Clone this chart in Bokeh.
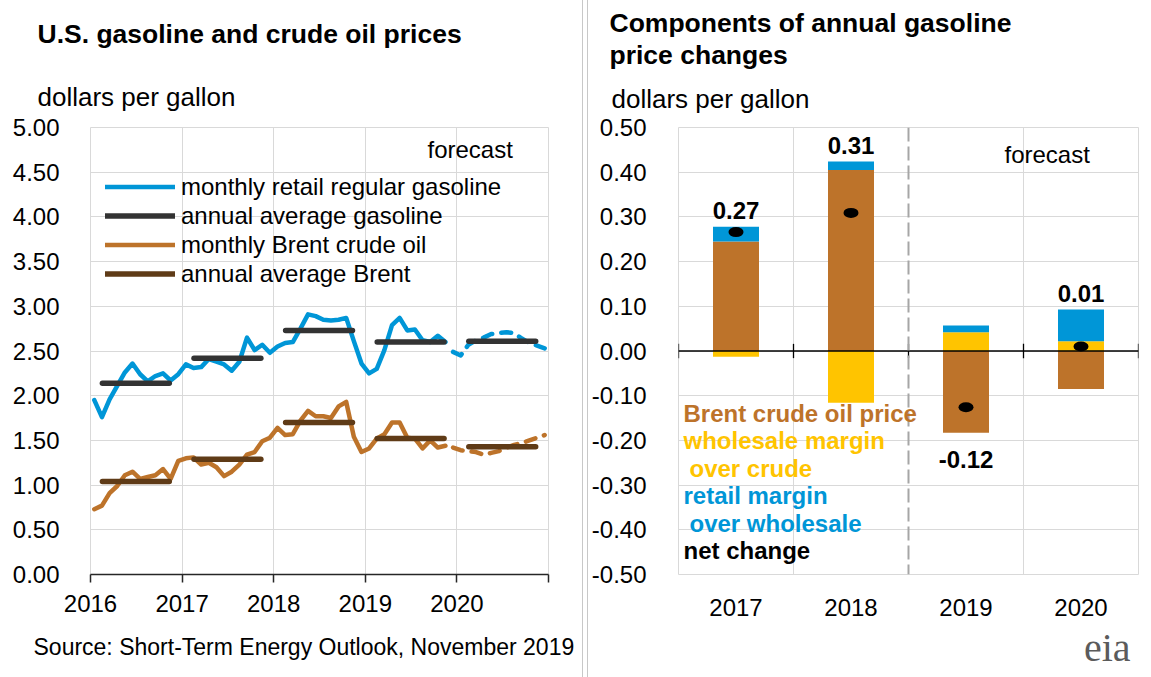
from bokeh.plotting import figure
from bokeh.layouts import row
from bokeh.models import (Legend, LegendItem, Label, FixedTicker, PrintfTickFormatter,
                          Span, Range1d, Title, Div)
from bokeh.core.properties import value
from bokeh.embed import file_html
from bokeh.resources import INLINE

FONT = "Liberation Sans"
BLUE = "#0096D7"
BROWN = "#BD732A"
YELLOW = "#FFC400"
DARK = "#333333"
DARK_BROWN = "#5F3B17"
GRID = "#D9D9D9"
RULE = "#C8C8C8"

# ---------------- left panel data (dollars per gallon) ----------------
first_year = 2016
# monthly values Jan 2016 - Nov 2019 (history)
gasoline_hist = [1.95, 1.76, 1.96, 2.11, 2.26, 2.36, 2.24, 2.16, 2.22, 2.25, 2.17, 2.24,
                 2.35, 2.31, 2.32, 2.41, 2.38, 2.35, 2.28, 2.38, 2.65, 2.51, 2.57, 2.48,
                 2.55, 2.59, 2.60, 2.75, 2.91, 2.89, 2.85, 2.84, 2.85, 2.87, 2.61, 2.36,
                 2.25, 2.30, 2.51, 2.79, 2.87, 2.73, 2.74, 2.62, 2.60, 2.67, 2.60]
# monthly values Dec 2019 - Dec 2020 (forecast)
gasoline_fcst = [2.49, 2.45, 2.57, 2.62, 2.65, 2.69, 2.70, 2.71, 2.70, 2.64, 2.59, 2.56, 2.53]
brent_hist = [0.73, 0.77, 0.91, 0.99, 1.11, 1.15, 1.07, 1.09, 1.11, 1.18, 1.07, 1.27,
              1.30, 1.31, 1.23, 1.25, 1.20, 1.10, 1.15, 1.23, 1.34, 1.37, 1.49, 1.53,
              1.64, 1.56, 1.57, 1.72, 1.83, 1.77, 1.77, 1.75, 1.88, 1.93, 1.54, 1.37,
              1.41, 1.52, 1.57, 1.70, 1.70, 1.53, 1.52, 1.41, 1.50, 1.42, 1.44]
brent_fcst = [1.42, 1.39, 1.38, 1.37, 1.34, 1.36, 1.38, 1.42, 1.45, 1.47, 1.50, 1.53, 1.56]
annual_years = [2016, 2017, 2018, 2019, 2020]
gasoline_annual = [2.14, 2.42, 2.73, 2.60, 2.61]
brent_annual = [1.04, 1.29, 1.70, 1.52, 1.43]
year_ticks = [2016, 2017, 2018, 2019, 2020, 2021]
year_labels = ["2016", "2017", "2018", "2019", "2020", ""]
price_ticks = [0.0, 0.5, 1.0, 1.5, 2.0, 2.5, 3.0, 3.5, 4.0, 4.5, 5.0]

# ---------------- right panel data (dollars per gallon) ----------------
comp_years = ["2017", "2018", "2019", "2020"]
brent_change = [0.245, 0.405, -0.183, -0.085]
wholesale_change = [-0.013, -0.116, 0.042, 0.022]
retail_change = [0.033, 0.019, 0.015, 0.071]
net_change = [0.266, 0.309, -0.126, 0.010]
net_labels = ["0.27", "0.31", "-0.12", "0.01"]
change_ticks = [-0.5, -0.4, -0.3, -0.2, -0.1, 0.0, 0.1, 0.2, 0.3, 0.4, 0.5]


def lbl(p, x, y, text, size="24px", style="normal", color="black", font=FONT):
    p.add_layout(Label(x=x, y=y, x_units="screen", y_units="screen", text=text,
                       text_font=font, text_font_size=size, text_font_style=style,
                       text_color=color, text_baseline="alphabetic", text_align="left"))


def ttl(p, text, side, size, style="normal", offset=0, standoff=0, align="left",
        valign="bottom", font=FONT, color="black", line_height=1.0):
    p.add_layout(Title(text=text, align=align, offset=offset, standoff=standoff,
                       vertical_align=valign, text_font=font, text_font_size=size,
                       text_font_style=style, text_color=color,
                       text_line_height=line_height), side)


def style_axes(p):
    for ax in (p.xaxis[0], p.yaxis[0]):
        ax.major_label_text_font = FONT
        ax.major_label_text_font_size = "24px"
        ax.major_label_text_color = "black"
        ax.minor_tick_line_color = None
    p.yaxis.axis_line_color = None
    p.yaxis.major_tick_line_color = None
    p.xgrid.grid_line_color = GRID
    p.ygrid.grid_line_color = GRID
    p.outline_line_color = GRID
    p.border_fill_color = "white"
    p.background_fill_color = "white"


# ======================= LEFT FIGURE =======================
p1 = figure(width=582, height=677, x_range=Range1d(2016, 2021), y_range=Range1d(0, 5),
            output_backend="svg", toolbar_location=None,
            min_border_left=90, min_border_right=34, min_border_top=124, min_border_bottom=103)
style_axes(p1)
p1.xaxis.ticker = FixedTicker(ticks=year_ticks)
p1.xaxis.major_label_overrides = {t: s for t, s in zip(year_ticks, year_labels)}
p1.xaxis.axis_line_color = "#262626"
p1.xaxis.axis_line_width = 1.5
p1.xaxis.major_tick_line_color = "#262626"
p1.xaxis.major_tick_line_width = 1.5
p1.xaxis.major_tick_out = 8
p1.xaxis.major_tick_in = 0
p1.xaxis.major_label_standoff = 12
p1.yaxis.ticker = FixedTicker(ticks=price_ticks)
p1.yaxis.formatter = PrintfTickFormatter(format="%.2f")
p1.yaxis.major_label_standoff = 25

x_hist = [first_year + (i + 0.5) / 12 for i in range(len(gasoline_hist))]
x_fcst = [first_year + (len(gasoline_hist) + j + 0.5) / 12 for j in range(len(gasoline_fcst))]
x0_ann = [y + 0.13 for y in annual_years]
x1_ann = [y + 0.86 for y in annual_years]

r_gas = p1.line(x_hist, gasoline_hist, line_color=BLUE, line_width=4.5,
                line_join="round", line_cap="round")
p1.line(x_fcst, gasoline_fcst, line_color=BLUE, line_width=4.5, line_dash="10 9",
        line_join="round", line_cap="round")
r_brent = p1.line(x_hist, brent_hist, line_color=BROWN, line_width=4.5,
                  line_join="round", line_cap="round")
p1.line(x_fcst, brent_fcst, line_color=BROWN, line_width=4.5, line_dash="10 9",
        line_join="round", line_cap="round")
r_gas_ann = p1.segment(x0=x0_ann, y0=gasoline_annual, x1=x1_ann, y1=gasoline_annual,
                       line_color=DARK, line_width=5.5, line_cap="round")
r_brent_ann = p1.segment(x0=x0_ann, y0=brent_annual, x1=x1_ann, y1=brent_annual,
                         line_color=DARK_BROWN, line_width=5.5, line_cap="round")

legend = Legend(items=[
    LegendItem(label="monthly retail regular gasoline", renderers=[r_gas]),
    LegendItem(label="annual average gasoline", renderers=[r_gas_ann]),
    LegendItem(label="monthly Brent crude oil", renderers=[r_brent]),
    LegendItem(label="annual average Brent", renderers=[r_brent_ann]),
], location=(15, 286), orientation="vertical")
legend.background_fill_alpha = 0
legend.border_line_color = None
legend.padding = 0
legend.margin = 0
legend.spacing = 0
legend.glyph_width = 70
legend.glyph_height = 29
legend.label_height = 29
legend.label_standoff = 6
legend.label_text_font = FONT
legend.label_text_font_size = "24px"
legend.label_text_color = "black"
p1.add_layout(legend)

lbl(p1, 337, 425, "forecast")
# titles (first added sits next to the frame)
ttl(p1, "dollars per gallon", "above", "26px", offset=-53, standoff=28, valign="top")
ttl(p1, "U.S. gasoline and crude oil prices", "above", "26.5px", style="bold",
    offset=-53, standoff=34, valign="top")
ttl(p1, "Source: Short-Term Energy Outlook, November 2019", "below", "23px",
    offset=-57, standoff=34, valign="bottom")

# ======================= RIGHT FIGURE =======================
p2 = figure(width=563, height=677, x_range=Range1d(0.5, 4.5), y_range=Range1d(-0.5, 0.5),
            output_backend="svg", toolbar_location=None,
            min_border_left=88, min_border_right=13, min_border_top=127, min_border_bottom=102)
style_axes(p2)
xs = [i + 1 for i in range(len(comp_years))]
p2.xaxis.ticker = FixedTicker(ticks=xs)
p2.xaxis.major_label_overrides = {x: c for x, c in zip(xs, comp_years)}
p2.xaxis.axis_line_color = None
p2.xaxis.major_tick_line_color = None
p2.xaxis.major_label_standoff = 18
p2.yaxis.ticker = FixedTicker(ticks=change_ticks)
p2.yaxis.formatter = PrintfTickFormatter(format="%.2f")
p2.yaxis.major_label_standoff = 26
bounds = [x - 0.5 for x in xs] + [xs[-1] + 0.5]
p2.xgrid.ticker = FixedTicker(ticks=[b for b in bounds if b != 2.5])

# stacked components
pos_base = [0.0] * len(xs)
neg_base = [0.0] * len(xs)
for vals, col in ((brent_change, BROWN), (wholesale_change, YELLOW), (retail_change, BLUE)):
    bottoms, tops = [], []
    for i, v in enumerate(vals):
        if v >= 0:
            bottoms.append(pos_base[i]); tops.append(pos_base[i] + v); pos_base[i] += v
        else:
            bottoms.append(neg_base[i]); tops.append(neg_base[i] + v); neg_base[i] += v
    p2.vbar(x=xs, width=0.4, bottom=bottoms, top=tops, fill_color=col, line_color=None)

# zero axis line with category boundary ticks
p2.add_layout(Span(location=0, dimension="width", line_color="black", line_width=1.3))
p2.segment(x0=bounds, y0=[-0.016] * len(bounds), x1=bounds, y1=[0.016] * len(bounds),
           line_color="black", line_width=1.3)
# forecast divider
p2.add_layout(Span(location=2.5, dimension="height", line_color="#A6A6A6",
                   line_width=2, line_dash="14 5"))

# net change markers and labels
p2.ellipse(x=xs, y=net_change, width=15, height=10, width_units="screen",
           height_units="screen", fill_color="black", line_color=None)
label_y = [pos_base[i] + 0.036 if net_change[i] >= 0 else neg_base[i] - 0.060
           for i in range(len(xs))]
p2.text(x=xs, y=label_y, text=net_labels, text_align="center", text_baseline="alphabetic",
        text_font=value(FONT), text_font_size="24px", text_font_style="bold",
        text_color="black")

lbl(p2, 326, 420, "forecast")
lbl(p2, 5, 161, "Brent crude oil price", style="bold", color=BROWN)
lbl(p2, 5, 134, "wholesale margin", style="bold", color=YELLOW)
lbl(p2, 11, 106, "over crude", style="bold", color=YELLOW)
lbl(p2, 5, 79, "retail margin", style="bold", color=BLUE)
lbl(p2, 11, 51, "over wholesale", style="bold", color=BLUE)
lbl(p2, 5, 24, "net change", style="bold", color="black")

ttl(p2, "dollars per gallon", "above", "26px", offset=-67, standoff=23, valign="top")
ttl(p2, "Components of annual gasoline\nprice changes", "above", "26.5px", style="bold",
    offset=-69, standoff=0, valign="top", line_height=1.09)
ttl(p2, "eia", "below", "40px", align="right", offset=8, standoff=8, valign="bottom",
    font="Liberation Serif", color="#5B5B5B")

# double divider between the two panels
divider = Div(text="", width=6, height=677, margin=0,
              styles={"border-left": "1px solid " + RULE, "border-right": "1px solid " + RULE,
                      "box-sizing": "border-box"})

layout = row(p1, divider, p2, spacing=0)
open("out.html", "w").write(file_html(layout, INLINE))
